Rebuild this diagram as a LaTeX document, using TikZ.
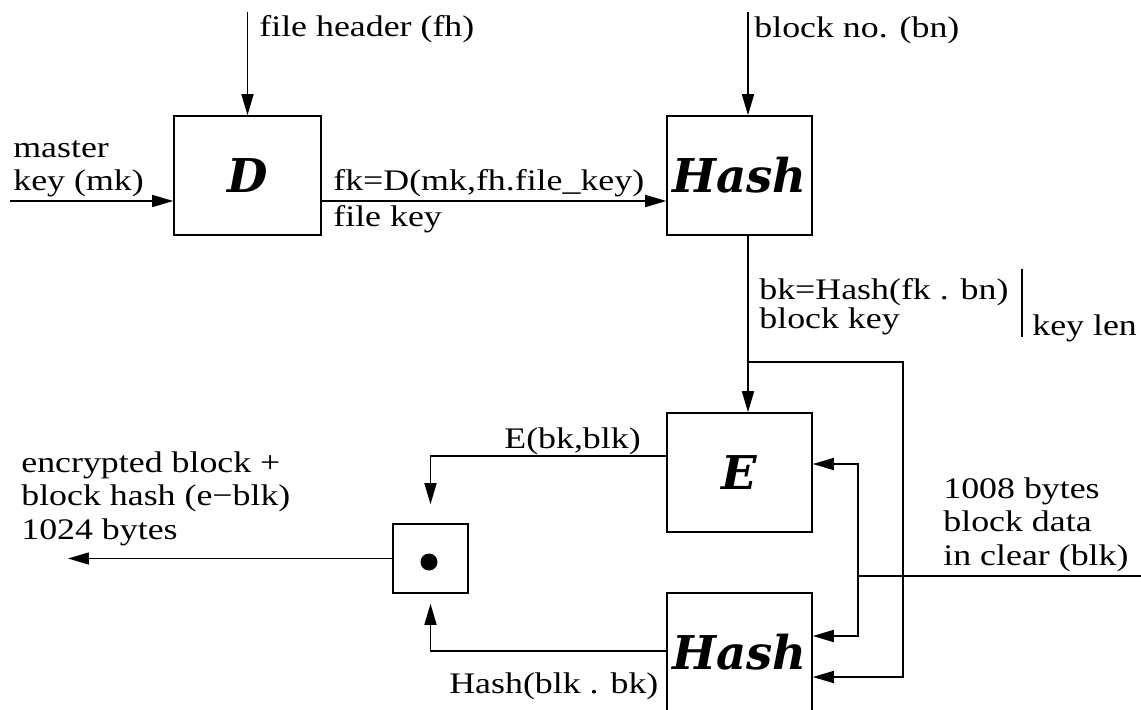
\documentclass[tikz,border=0pt]{standalone}
\usepackage{fontspec}
\usepackage{tikz}
\usetikzlibrary{arrows.meta,calc}
\newfontfamily\lblfont{Liberation Serif}[FakeStretch=1.2]
\newfontfamily\boxfont{DejaVu Serif}
\tikzset{
  blockbox/.style={draw, line width=0.9pt, inner sep=0pt,
    minimum width=2.9cm, minimum height=2.38cm,
    font=\boxfont\bfseries\itshape\fontsize{26.5pt}{26.5pt}\selectfont},
  lbl/.style={inner sep=0pt, anchor=base west, align=left,
    font=\lblfont\fontsize{17pt}{19pt}\selectfont},
  arr/.style={line width=0.9pt, -{Triangle[length=0.42cm, width=0.24cm]}},
  wire/.style={line width=0.9pt}
}
\begin{document}
\begin{tikzpicture}[x=0.02cm, y=-0.02cm]
        \useasboundingbox (0,0) rectangle (1141,709);

        % Kutuları çiz
        \node[blockbox, minimum width=2.94cm] (D) at (247.5,175.5) {D};
        \node[blockbox] (hashA) at (739.5,175.5) {\raisebox{-4pt}{Hash}};
        \node[blockbox] (E) at (739.5,472.5) {E};
        \node[blockbox] (hashB) at (739.5,652.5) {Hash};
        \node[draw, line width=0.9pt, minimum width=1.5cm, minimum height=1.38cm] (dotbox) at (430.5,558.5) {};
        \fill ($(dotbox.center)+(-1.5,3.5)$) circle (8.5);

        % Giriş ve çıkış noktaları
        \coordinate (fhin) at (247.5,12);
        \coordinate (mkin) at (10,201);
        \coordinate (bnin) at (748,12);
        \coordinate (kbr) at (748,362);
        \coordinate (kturn) at (903,362);
        \coordinate (datain) at (1141,576);
        \coordinate (split) at (858,576);
        \coordinate (eout) at (68,559);

        % Okları çiz
        \draw[arr] (fhin) -- (D.north);
        \draw[arr] (mkin) -- (mkin -| D.west);
        \draw[arr] (D.east |- mkin) -- (hashA.west |- mkin);
        \draw[arr] (bnin) -- (bnin |- hashA.north);
        \draw[arr] (bnin |- hashA.south) -- (bnin |- E.north);
        \draw[arr] (kbr) -- (kturn) |- ($(hashB.east)+(0,24.5)$);
        \draw[wire] (datain) -- (split);
        \draw[arr] (split) |- ($(E.east)+(0,-8.5)$);
        \draw[arr] (split) |- ($(hashB.east)+(0,-16.5)$);
        \draw[arr, shorten >=0.38cm] ($(E.west)+(0,-16.5)$) -| (dotbox.north);
        \draw[arr, shorten >=0.2cm] ($(hashB.west)+(0,-1.5)$) -| (dotbox.south);
        \draw[arr] (dotbox.west) -- (eout |- dotbox.west);

        % Anahtar uzunluğu çizgisi
        \draw[wire] (1022,269) -- (1022,337);

        % Etiketler
        \node[lbl] (fhlbl) at (259,37) {file header (fh)};
        \node[lbl] (bnlbl) at (754,38) {block no. (bn)};
        \node[lbl] (mklbl) at (13,191) {master\\key (mk)};
        \node[lbl] (fklbl) at (333,191) {fk=D(mk,fh.file\_key)};
        \node[lbl] (fkname) at (333,227) {file key};
        \node[lbl, font=\lblfont\fontsize{17pt}{14.8pt}\selectfont] (bklbl) at (759,328) {bk=Hash(fk . bn)\\block key};
        \node[lbl] (klen) at (1032,335) {key len};
        \node[lbl] (blklbl) at (943,565) {1008 bytes\\block data\\in clear (blk)};
        \node[lbl] (elbl) at (504,448) {E(bk,blk)};
        \node[lbl] (outlbl) at (21,539) {encrypted block +\\block hash (e−blk)\\1024 bytes};
        \node[lbl] (hlbl) at (449,693) {Hash(blk . bk)};
\end{tikzpicture}
\end{document}
